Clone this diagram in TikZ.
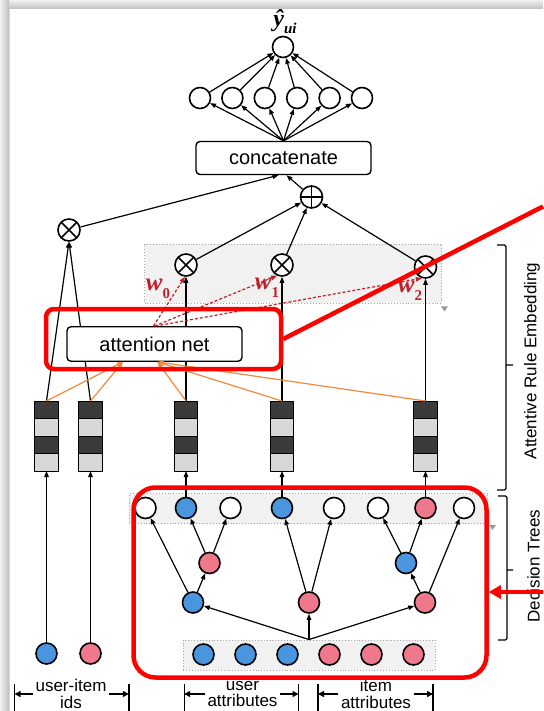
\documentclass[tikz,border=0pt]{standalone}
\usepackage{fontspec}
\setsansfont{Liberation Sans}
\newfontfamily\symserif{Liberation Serif}
\newcommand{\subvar}[2]{{\symserif\bfseries\itshape #1}\raisebox{-0.3em}{\fontsize{15}{15}\selectfont\symserif\bfseries\itshape #2}}
\usetikzlibrary{arrows.meta, positioning, calc}
\definecolor{cblue}{HTML}{4A96DE}
\definecolor{cpink}{HTML}{F0788C}
\definecolor{cdark}{HTML}{3B3B3B}
\definecolor{clight}{HTML}{D8D8D8}
\definecolor{corange}{HTML}{F08A3C}
\definecolor{cwred}{HTML}{C0202A}
\definecolor{cgroup}{HTML}{F1F1F1}
\tikzset{
  every picture/.style={font=\sffamily, line width=1.2pt},
  neuron/.style={circle, draw, line width=1.6pt, minimum size=21pt, inner sep=0pt, fill=#1},
  neuron/.default=white,
  opx/.style={circle, draw, line width=1.6pt, minimum size=22pt, inner sep=0pt, fill=white,
    path picture={\draw[line width=1.6pt] (path picture bounding box.north west) -- (path picture bounding box.south east)
      (path picture bounding box.south west) -- (path picture bounding box.north east);}},
  opplus/.style={circle, draw, line width=1.6pt, minimum size=22pt, inner sep=0pt, fill=white,
    path picture={\draw[line width=1.6pt] (path picture bounding box.north) -- (path picture bounding box.south)
      (path picture bounding box.west) -- (path picture bounding box.east);}},
  layerbox/.style={draw, fill=white, rounded corners=4pt, line width=1.4pt, minimum height=33pt, minimum width=175pt,
    font=\sffamily\fontsize{20}{24}\selectfont},
  cell/.style={draw, line width=0.8pt, fill=#1, minimum width=23.5pt, minimum height=17.5pt, inner sep=0pt, outer sep=0pt},
  groupbox/.style={draw=gray!70, dotted, fill=cgroup, line width=0.9pt, inner sep=0pt},
  hilite/.style={draw=red, line width=4.5pt, rounded corners=#1, inner sep=0pt},
  hilite/.default=8pt,
  arrow/.style={-{Triangle[length=6pt, width=4.5pt]}, line width=1.2pt},
  oarrow/.style={arrow, draw=corange},
  warrow/.style={-{Triangle[length=6pt, width=4.5pt]}, draw=cwred, line width=1.2pt, dash pattern=on 3pt off 2pt},
  wlabel/.style={text=cwred, font=\fontsize{25}{26}\selectfont, inner sep=1pt},
  brace/.style={line width=1.1pt, rounded corners=1.5pt},
  sidelabel/.style={rotate=90, font=\sffamily\fontsize{17}{20}\selectfont},
  dimlabel/.style={align=center, font=\sffamily\fontsize{17}{16.5}\selectfont, inner sep=2pt},
  dimarrow/.style={-{Triangle[length=6pt, width=6pt]}, line width=1.3pt},
}

\begin{document}
\begin{tikzpicture}[x=1pt, y=-1pt]
  \useasboundingbox (0,0) rectangle (543,711);
  % frame
  \fill[gray!30] (0,0) rectangle (543,711);
  \shade[top color=gray!12, bottom color=gray!50] (0,0) rectangle (543,9);
  \shade[left color=gray!12, right color=gray!50] (0,0) rectangle (9,711);
  \fill[white] (9.5,9.5) rectangle (543,711);

  % prediction layers
  \node[neuron] (out) at (283,47) {};
  \node[font=\fontsize{24}{24}\selectfont, inner sep=0pt] (yhat) at (285,22) {\subvar{ŷ}{ui}};
  \foreach \i in {1,...,6}
    \node[neuron] (h\i) at ({200+32.4*(\i-1)},98) {};
  \node[layerbox] (cat) at (283.5,158) {concatenate};
  \foreach \i in {1,...,6} {
    \draw[arrow] (cat.north) -- (h\i);
    \draw[arrow] (h\i) -- (out);
  }

  % attentive rule embedding
  \node[groupbox, minimum width=297pt, minimum height=59pt] (grp) at (293,273.5) {};
  \fill[gray!80] ([xshift=-1pt,yshift=-3pt]grp.south east) -- ++(7,0) -- ++(-3.5,5) -- cycle;
  \node[opplus] (sum) at (311.5,197) {};
  \node[opx] (m0) at (69,230) {};
  \node[opx] (m1) at (186,265) {};
  \node[opx] (m2) at (282,265) {};
  \node[opx] (m3) at (425.5,267) {};
  \draw[arrow] (m0) -- ([xshift=-5pt]cat.south);
  \draw[arrow] (sum) -- ([xshift=3pt]cat.south);
  \foreach \i in {1,2,3}
    \draw[arrow] (m\i) -- (sum);

  % embedding vectors
  \foreach \i/\x in {1/46.5, 2/90.5, 3/186, 4/282, 5/425.5} {
    \node[cell=cdark] (e\i-a) at (\x,409.75) {};
    \node[cell=clight, below=0pt of e\i-a] (e\i-b) {};
    \node[cell=cdark, below=0pt of e\i-b] (e\i-c) {};
    \node[cell=clight, below=0pt of e\i-c] (e\i-d) {};
  }
  \draw[arrow] (e1-a.north) -- (m0.south);
  \draw[arrow] (e2-a.north) -- (m0.south);
  \draw[arrow] (e3-a.north) -- (m1.south);
  \draw[arrow] (e4-a.north) -- (m2.south);
  \draw[arrow] (e5-a.north) -- (m3.south);

  \node[layerbox, minimum height=34.5pt] (att) at (154.5,344) {attention net};
  \foreach \i in {1,2}
    \draw[oarrow] (e\i-a.north) -- ([xshift=-31.5pt]att.south);
  \foreach \i in {3,4,5}
    \draw[oarrow] (e\i-a.north) -- ([xshift=3pt]att.south);
  \draw[warrow] ([xshift=-1pt]att.north) -- (m1.-95);
  \draw[warrow] (att.north) -- (m2.-115);
  \draw[warrow] ([xshift=1pt]att.north) -- (m3.-108);
  \node[wlabel] (w0) at (158,289) {\subvar{w}{\upshape 0}};
  \node[wlabel] (w1) at (267,288) {\subvar{w}{\upshape 1}};
  \node[wlabel] (w2) at (410,291) {\subvar{w}{\upshape 2}};

  % decision trees
  \node[groupbox, minimum width=358.5pt, minimum height=30pt] (leafgrp) at (308.25,508.5) {};
  \fill[gray!80] ([xshift=1pt,yshift=-1pt]leafgrp.south east) -- ++(7,0) -- ++(-3.5,5) -- cycle;
  \foreach \i/\x/\c in {0/145.5/white, 1/186/cblue, 2/230.5/white, 3/282/cblue,
                        4/334/white, 5/378/white, 6/425.5/cpink, 7/464/white}
    \node[neuron=\c] (l\i) at (\x,508) {};
  \node[neuron=cpink] (t2a) at (209.5,563) {};
  \node[neuron=cblue] (t2b) at (406,563) {};
  \node[neuron=cblue] (t1a) at (193,602.5) {};
  \node[neuron=cpink] (t1b) at (309,602.5) {};
  \node[neuron=cpink] (t1c) at (425,602.5) {};
  \node[groupbox, minimum width=252pt, minimum height=30pt] (attr) at (309,655) {};
  \foreach \i/\c in {0/cblue, 1/cblue, 2/cblue, 3/cpink, 4/cpink, 5/cpink}
    \node[neuron=\c] (a\i) at ({203.5+42*\i},654.5) {};
  \foreach \t in {t1a,t1b,t1c}
    \draw[arrow] (attr.north) -- (\t);
  \foreach \s/\t in {t1a/l0, t1a/t2a, t2a/l1, t2a/l2, t1b/l3, t1b/l4, t1c/t2b, t1c/l7, t2b/l5, t2b/l6}
    \draw[arrow] (\s) -- (\t);
  \foreach \l/\e in {l1/e3, l3/e4, l6/e5}
    \draw[arrow] (\l) -- (\e-d.south);

  % user and item ids
  \node[neuron=cblue] (uid) at (46.5,653.5) {};
  \node[neuron=cpink] (iid) at (90.5,653.5) {};
  \draw[arrow] (uid) -- (e1-d.south);
  \draw[arrow] (iid) -- (e2-d.south);

  % side braces
  \draw[brace] (497,245) -- (506,245) -- (506,490) -- (497,490) (506,365) -- (513,365);
  \draw[brace] (498,496) -- (507,496) -- (507,640) -- (498,640) (507,570) -- (513,570);
  \node[sidelabel] (lblA) at (532,361) {Attentive Rule Embedding};
  \node[sidelabel] (lblB) at (533.5,566) {Decision Trees};

  % input ranges
  \foreach \n/\x in {k0/14.5, k1/128.8, k2/184.2, k3/298.5, k4/318, k5/433} {
    \coordinate (\n) at (\x,695);
    \draw[line width=1.4pt] (\x,684) -- (\x,712);
  }
  \node[dimlabel] (dId) at (71,694) {user-item\\ids};
  \node[dimlabel] (dUser) at (242.5,694) {user\\attributes};
  \node[dimlabel] (dItem) at (376,694) {item\\attributes};
  \draw[dimarrow] (dId.west) -- (dId.west -| k0);
  \draw[dimarrow] (dId.east) -- (dId.east -| k1);
  \draw[dimarrow] (dUser.west) -- (dUser.west -| k2);
  \draw[dimarrow] (dUser.east) -- (dUser.east -| k3);
  \draw[dimarrow] (dItem.west) -- (dItem.west -| k4);
  \draw[dimarrow] (dItem.east) -- (dItem.east -| k5);

  % highlights
  \node[hilite=8pt, minimum width=235pt, minimum height=60pt] (hl1) at (163.5,339) {};
  \node[hilite=22pt, minimum width=353pt, minimum height=190pt] (hl2) at (310,582.5) {};
  \coordinate (zoomA) at (543,206.5);
  \coordinate (zoomB) at (543,592);
  \draw[red, line width=4.5pt] (hl1.east) -- (zoomA);
  \draw[red, line width=4pt, -{Triangle[length=12pt, width=13pt]}] (zoomB) -- (zoomB -| hl2.east);
\end{tikzpicture}
\end{document}
